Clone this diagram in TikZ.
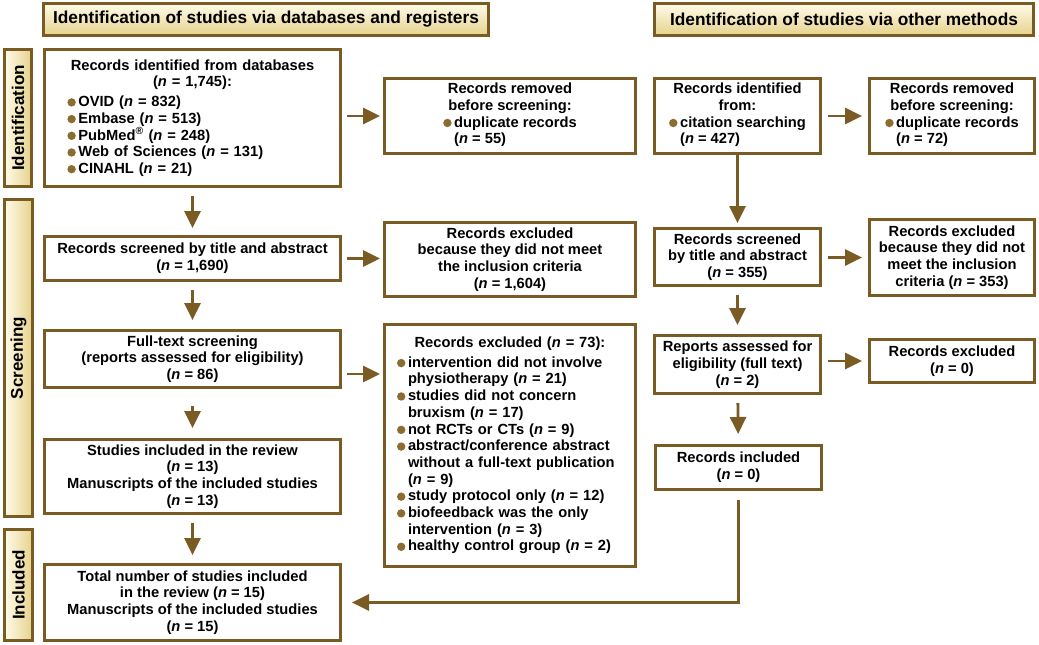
\documentclass[tikz,border=0pt]{standalone}
\usepackage{fontspec}
\setmainfont{Liberation Sans}
\usetikzlibrary{arrows.meta}
\definecolor{framebrown}{HTML}{7B5B24}
\definecolor{dotbrown}{HTML}{8C6C31}
\definecolor{paleyellow}{HTML}{FFFBE9}
\definecolor{sandyellow}{HTML}{E6D28C}
\newcommand{\bodyfont}{\fontsize{14.7}{16.7}\selectfont\bfseries}
\newcommand{\nval}[1]{(\textit{n} = #1)}
\newcommand{\bdot}{\makebox[11pt][l]{\tikz[x=1cm,y=1cm,baseline=-4.2pt]\fill[dotbrown] (0,0) circle (4.2pt);}}
\newcommand{\itm}[1]{\par\hangindent=11pt\hangafter=1\noindent\bdot#1}
\newcommand{\blist}[2]{\begin{tabular}[t]{@{}l@{}}\bdot#1\\\hspace*{11pt}#2\end{tabular}}
\begin{document}
\begin{tikzpicture}
[x=1pt,y=-1pt,
  boxdecorate/.style={draw=framebrown,line width=2.8pt,fill=white,align=center,inner sep=4pt,font=\bodyfont},
  listdecorate/.style={draw=framebrown,line width=2.8pt,fill=white,font=\bodyfont},
  hdrdecorate/.style={draw=framebrown,line width=2.8pt,top color=paleyellow,bottom color=sandyellow,
    minimum height=32.2,font=\fontsize{17.3}{20}\selectfont\bfseries},
  sidedecorate/.style={draw=framebrown,line width=2.8pt,left color=paleyellow,right color=sandyellow},
  sidetext/.style={rotate=90,font=\fontsize{17}{19}\selectfont\bfseries},
  arrowdecorate/.style={draw=framebrown,line width=2.8pt,-{Triangle[length=17pt,width=16pt]}}]
\useasboundingbox (0,0) rectangle (1039,645);
% headers
\node (hdrL) at (266,19.5) [hdrdecorate,minimum width=445.2] {Identification of studies via databases and registers};
\node (hdrR) at (844,19.5) [hdrdecorate,minimum width=379.2] {Identification of studies via other methods};
% stages
\node (sideI) at (18,118) [sidedecorate,minimum width=27.2,minimum height=137.2] {};
\node [sidetext] at (sideI) {Identification};
\node (sideS) at (18.5,358) [sidedecorate,minimum width=28.2,minimum height=317.2] {};
\node [sidetext] at (sideS) {Screening};
\node (sideN) at (18.5,585) [sidedecorate,minimum width=28.2,minimum height=111.2] {};
\node [sidetext] at (sideN) {Included};
% databases and registers
\node (db) at (192.5,118) [listdecorate,inner sep=8pt,text width=280.2,minimum height=137.2] {{\centering Records identified from databases\\\nval{1,745}:\par}\vspace{3pt}\raggedright\leftskip=15pt
\itm{OVID \nval{832}}\itm{Embase \nval{513}}\itm{PubMed\textsuperscript{\textregistered} \nval{248}}\itm{Web of Sciences \nval{131}}\itm{CINAHL \nval{21}}\par};
\node (scr) at (192.5,258.5) [boxdecorate,minimum width=296.2,minimum height=44.2] {Records screened by title and abstract\\\nval{1,690}};
\node (ft) at (192.5,359) [boxdecorate,minimum width=296.2,minimum height=57.2] {Full-text screening\\(reports assessed for eligibility)\\\nval{86}};
\node (inc) at (192.5,476.5) [boxdecorate,minimum width=296.2,minimum height=74.2] {Studies included in the review\\\nval{13}\\Manuscripts of the included studies\\\nval{13}};
\node (tot) at (192.5,602.5) [boxdecorate,minimum width=296.2,minimum height=76.2] {Total number of studies included\\in the review \nval{15}\\Manuscripts of the included studies\\\nval{15}};
\node (dbdup) at (510,116) [boxdecorate,minimum width=251.2,minimum height=75.2] {Records removed\\before screening:\\\blist{duplicate records}{\nval{55}}};
\node (screx) at (510,259.5) [boxdecorate,minimum width=251.2,minimum height=74.2] {Records excluded\\because they did not meet\\the inclusion criteria\\\nval{1,604}};
\node (ftex) at (510,445.5) [listdecorate,inner sep=12.6pt,text width=226,minimum height=232.2] {{\centering Records excluded \nval{73}:\par}\vspace{3pt}\raggedright
\itm{intervention did not involve\newline physiotherapy \nval{21}}\itm{studies did not concern\newline bruxism \nval{17}}\itm{not RCTs or CTs \nval{9}}\itm{abstract/conference abstract\newline without a full-text publication\newline \nval{9}}\itm{study protocol only \nval{12}}\itm{biofeedback was the only\newline intervention \nval{3}}\itm{healthy control group \nval{2}}\par};
% other methods
\node (oth) at (737.5,116) [boxdecorate,minimum width=166.2,minimum height=75.2] {Records identified\\from:\\\blist{citation searching}{\nval{427}}};
\node (othscr) at (737.5,257) [boxdecorate,minimum width=166.2,minimum height=57.2] {Records screened\\by title and abstract\\\nval{355}};
\node (rep) at (737.5,364.5) [boxdecorate,minimum width=166.2,minimum height=58.2] {Reports assessed for\\eligibility (full text)\\\nval{2}};
\node (othinc) at (738.5,467.5) [boxdecorate,minimum width=166.2,minimum height=44.2] {Records included\\\nval{0}};
\node (othdup) at (952,116) [boxdecorate,minimum width=165.2,minimum height=75.2] {Records removed\\before screening:\\\blist{duplicate records}{\nval{72}}};
\node (othex) at (952,257.5) [boxdecorate,minimum width=165.2,minimum height=76.2] {Records excluded\\because they did not\\meet the inclusion\\criteria \nval{353}};
\node (repex) at (952,361) [boxdecorate,minimum width=165.2,minimum height=43.2] {Records excluded\\\nval{0}};
% arrows
\coordinate (ftarr) at ([yshift=-15pt]ft.east);
\path
(db) edge[arrowdecorate,shorten <=8pt,shorten >=7pt] (scr)
(scr) edge[arrowdecorate,shorten <=8pt,shorten >=9pt] (ft)
(ft) edge[arrowdecorate,shorten <=17pt,shorten >=10pt] (inc)
(inc) edge[arrowdecorate,shorten <=8pt,shorten >=8pt] (tot)
(db.east |- dbdup.west) edge[arrowdecorate,shorten <=5pt,shorten >=3pt] (dbdup.west)
(scr.east) edge[arrowdecorate,shorten <=5pt,shorten >=3pt] (screx.west |- scr.east)
(ftarr) edge[arrowdecorate,shorten <=5pt,shorten >=3pt] (ftarr -| ftex.west)
(oth) edge[arrowdecorate,shorten >=4pt] (othscr)
(othscr) edge[arrowdecorate,shorten <=8pt,shorten >=9pt] (rep)
(rep) edge[arrowdecorate,shorten <=8pt,shorten >=10pt] (othinc)
(oth.east |- othdup.west) edge[arrowdecorate,shorten <=6pt,shorten >=6pt] (othdup.west)
(othscr.east |- othex.west) edge[arrowdecorate,shorten <=6pt,shorten >=6pt] (othex.west)
(rep.east |- repex.west) edge[arrowdecorate,shorten <=6pt,shorten >=6pt] (repex.west);
\draw[arrowdecorate,shorten <=9pt,shorten >=10pt] (othinc.south) |- (tot.east);
\end{tikzpicture}
\end{document}
